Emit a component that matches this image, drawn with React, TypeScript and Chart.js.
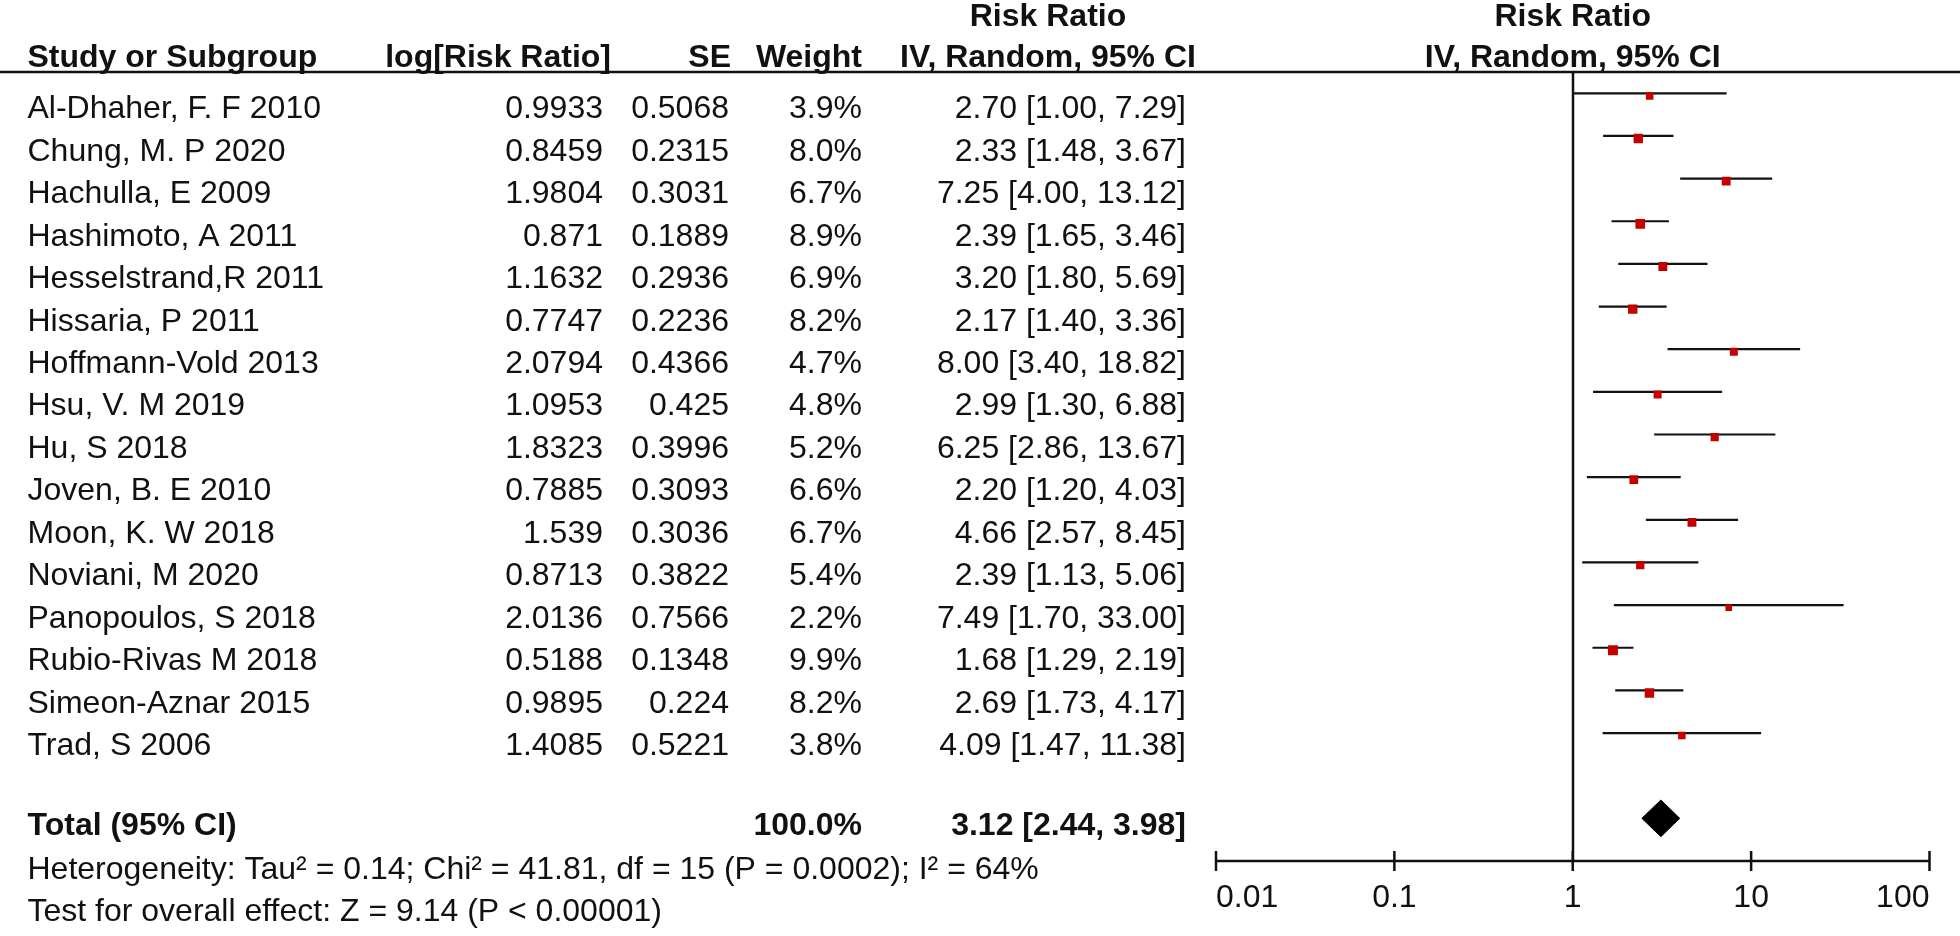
import React, { useEffect, useRef } from "react";
import { Chart, registerables } from "chart.js";

Chart.register(...registerables);

// ---------- data ----------
const studies = [
  "Al-Dhaher, F. F 2010",
  "Chung, M. P 2020",
  "Hachulla, E 2009",
  "Hashimoto, A 2011",
  "Hesselstrand,R 2011",
  "Hissaria, P 2011",
  "Hoffmann-Vold 2013",
  "Hsu, V. M 2019",
  "Hu, S 2018",
  "Joven, B. E 2010",
  "Moon, K. W 2018",
  "Noviani, M 2020",
  "Panopoulos, S 2018",
  "Rubio-Rivas M 2018",
  "Simeon-Aznar 2015",
  "Trad, S 2006",
];
const logRR = [0.9933, 0.8459, 1.9804, 0.871, 1.1632, 0.7747, 2.0794, 1.0953, 1.8323, 0.7885, 1.539, 0.8713, 2.0136, 0.5188, 0.9895, 1.4085];
const seValues = [0.5068, 0.2315, 0.3031, 0.1889, 0.2936, 0.2236, 0.4366, 0.425, 0.3996, 0.3093, 0.3036, 0.3822, 0.7566, 0.1348, 0.224, 0.5221];
const weights = [3.9, 8.0, 6.7, 8.9, 6.9, 8.2, 4.7, 4.8, 5.2, 6.6, 6.7, 5.4, 2.2, 9.9, 8.2, 3.8];
const riskRatio = [2.7, 2.33, 7.25, 2.39, 3.2, 2.17, 8.0, 2.99, 6.25, 2.2, 4.66, 2.39, 7.49, 1.68, 2.69, 4.09];
const ciLower = [1.0, 1.48, 4.0, 1.65, 1.8, 1.4, 3.4, 1.3, 2.86, 1.2, 2.57, 1.13, 1.7, 1.29, 1.73, 1.47];
const ciUpper = [7.29, 3.67, 13.12, 3.46, 5.69, 3.36, 18.82, 6.88, 13.67, 4.03, 8.45, 5.06, 33.0, 2.19, 4.17, 11.38];

const totalLabel = "Total (95% CI)";
const totalWeight = 100.0;
const totalRR = 3.12;
const totalLower = 2.44;
const totalUpper = 3.98;

const xTicks = [0.01, 0.1, 1, 10, 100];
const headerTop = ["Risk Ratio", "Risk Ratio"];
const headerCols = ["Study or Subgroup", "log[Risk Ratio]", "SE", "Weight", "IV, Random, 95% CI", "IV, Random, 95% CI"];
const heterogeneityText = "Heterogeneity: Tau\u00b2 = 0.14; Chi\u00b2 = 41.81, df = 15 (P = 0.0002); I\u00b2 = 64%";
const overallText = "Test for overall effect: Z = 9.14 (P < 0.00001)";

// ---------- layout ----------
const W = 1960;
const H = 936;
const PLOT_LEFT = 1216;
const PLOT_RIGHT = 1929.5;
const PLOT_TOP = 72;
const PLOT_BOTTOM = 861;
const TOTAL_ROW = studies.length + 1;

const FONT = "'Liberation Sans', Arial, Helvetica, sans-serif";
const FS = 32;
const TEXT_COLOR = "#111111";
const RED = "#c40000";

const COL_NAME_L = 27.5;
const COL_LOG_R = 603;
const COL_SE_R = 729;
const COL_W_R = 862;
const COL_CI_R = 1186;
const HDR_LOG_R = 611;
const HDR_SE_R = 731;
const HDR_W_R = 862;
const HDR_CI_C = 1048;

const HDR1_Y = 17;
const HDR2_Y = 58;
const ROW_TEXT_Y0 = 109.5;
const ROW_TEXT_DY = 42.45;
const TOTAL_TEXT_Y = 826;
const HET_Y = 870.5;
const TEST_Y = 912.5;

const fmt2 = (v: number) => v.toFixed(2);

const tablePlugin = {
  id: "forestTable",
  beforeDatasetsDraw(chart: any) {
    const ctx: CanvasRenderingContext2D = chart.ctx;
    const xs = chart.scales.x;
    const area = chart.chartArea;
    ctx.save();
    ctx.strokeStyle = "#111";
    ctx.lineWidth = 2.5;
    // vertical line at no effect
    const x1 = Math.round(xs.getPixelForValue(1));
    ctx.beginPath();
    ctx.moveTo(x1, area.top);
    ctx.lineTo(x1, area.bottom);
    ctx.stroke();
    // axis line
    ctx.beginPath();
    ctx.moveTo(xs.getPixelForValue(xTicks[0]), area.bottom);
    ctx.lineTo(xs.getPixelForValue(xTicks[xTicks.length - 1]), area.bottom);
    ctx.stroke();
    // ticks
    xTicks.forEach((t) => {
      const px = xs.getPixelForValue(t);
      ctx.beginPath();
      ctx.moveTo(px, area.bottom - 10);
      ctx.lineTo(px, area.bottom + 10);
      ctx.stroke();
    });
    // tick labels
    ctx.fillStyle = TEXT_COLOR;
    ctx.font = `${FS}px ${FONT}`;
    ctx.textBaseline = "middle";
    xTicks.forEach((t, i) => {
      const px = xs.getPixelForValue(t);
      ctx.textAlign = i === 0 ? "left" : i === xTicks.length - 1 ? "right" : "center";
      ctx.fillText(String(t), px, area.bottom + 37);
    });
    ctx.restore();
  },
  afterDraw(chart: any) {
    const ctx: CanvasRenderingContext2D = chart.ctx;
    const xs = chart.scales.x;
    ctx.save();
    ctx.fillStyle = TEXT_COLOR;
    ctx.textBaseline = "middle";
    // header
    ctx.font = `bold ${FS}px ${FONT}`;
    ctx.textAlign = "center";
    ctx.fillText(headerTop[0], HDR_CI_C, HDR1_Y);
    ctx.fillText(headerTop[1], xs.getPixelForValue(1), HDR1_Y);
    ctx.textAlign = "left";
    ctx.fillText(headerCols[0], COL_NAME_L, HDR2_Y);
    ctx.textAlign = "right";
    ctx.fillText(headerCols[1], HDR_LOG_R, HDR2_Y);
    ctx.fillText(headerCols[2], HDR_SE_R, HDR2_Y);
    ctx.fillText(headerCols[3], HDR_W_R, HDR2_Y);
    ctx.textAlign = "center";
    ctx.fillText(headerCols[4], HDR_CI_C, HDR2_Y);
    ctx.fillText(headerCols[5], xs.getPixelForValue(1), HDR2_Y);
    // header rule
    ctx.strokeStyle = "#111";
    ctx.lineWidth = 2.5;
    ctx.beginPath();
    ctx.moveTo(0, PLOT_TOP);
    ctx.lineTo(W, PLOT_TOP);
    ctx.stroke();
    // rows
    ctx.font = `${FS}px ${FONT}`;
    studies.forEach((name, i) => {
      const y = ROW_TEXT_Y0 + ROW_TEXT_DY * i;
      ctx.textAlign = "left";
      ctx.fillText(name, COL_NAME_L, y);
      ctx.textAlign = "right";
      ctx.fillText(String(logRR[i]), COL_LOG_R, y);
      ctx.fillText(String(seValues[i]), COL_SE_R, y);
      ctx.fillText(weights[i].toFixed(1) + "%", COL_W_R, y);
      ctx.fillText(`${fmt2(riskRatio[i])} [${fmt2(ciLower[i])}, ${fmt2(ciUpper[i])}]`, COL_CI_R, y);
    });
    // total
    ctx.font = `bold ${FS}px ${FONT}`;
    ctx.textAlign = "left";
    ctx.fillText(totalLabel, COL_NAME_L, TOTAL_TEXT_Y);
    ctx.textAlign = "right";
    ctx.fillText(totalWeight.toFixed(1) + "%", COL_W_R, TOTAL_TEXT_Y);
    ctx.fillText(`${fmt2(totalRR)} [${fmt2(totalLower)}, ${fmt2(totalUpper)}]`, COL_CI_R, TOTAL_TEXT_Y);
    ctx.font = `${FS}px ${FONT}`;
    ctx.textAlign = "left";
    ctx.fillText(heterogeneityText, COL_NAME_L, HET_Y);
    ctx.fillText(overallText, COL_NAME_L, TEST_Y);
    ctx.restore();
  },
};

const squareRadius = (w: number) => (3.44 + 2.08 * Math.sqrt(w)) / Math.SQRT2;

export default function App() {
  const ref = useRef<HTMLCanvasElement | null>(null);
  useEffect(() => {
    if (!ref.current) return;
    const ciDatasets = studies.map((s, i) => ({
      type: "scatter" as const,
      label: s,
      data: [
        { x: ciLower[i], y: i },
        { x: ciUpper[i], y: i },
      ],
      showLine: true,
      borderColor: "#111",
      borderWidth: 2.2,
      pointRadius: 0,
      order: 2,
    }));
    const h = 0.43;
    const chart = new Chart(ref.current, {
      type: "scatter",
      data: {
        datasets: [
          {
            label: "Estimates",
            data: riskRatio.map((v, i) => ({ x: v, y: i + 0.06 })),
            pointStyle: "rect",
            pointRadius: weights.map(squareRadius),
            backgroundColor: RED,
            borderColor: RED,
            borderWidth: 0,
            order: 0,
          } as any,
          {
            label: "Total",
            data: [
              { x: totalLower, y: TOTAL_ROW },
              { x: totalRR, y: TOTAL_ROW - h },
              { x: totalUpper, y: TOTAL_ROW },
              { x: totalRR, y: TOTAL_ROW + h },
              { x: totalLower, y: TOTAL_ROW },
            ],
            showLine: true,
            fill: "shape",
            backgroundColor: "#000",
            borderColor: "#000",
            borderWidth: 1,
            pointRadius: 0,
            tension: 0,
            order: 1,
          } as any,
          ...ciDatasets,
        ],
      },
      options: {
        animation: false,
        responsive: false,
        devicePixelRatio: 1,
        events: [],
        layout: {
          padding: {
            left: PLOT_LEFT,
            right: W - PLOT_RIGHT,
            top: PLOT_TOP,
            bottom: H - PLOT_BOTTOM,
          },
        },
        plugins: { legend: { display: false }, tooltip: { enabled: false } },
        scales: {
          x: { type: "logarithmic", min: xTicks[0], max: xTicks[xTicks.length - 1], display: false },
          y: { type: "linear", min: -0.5, max: TOTAL_ROW + 1, reverse: true, display: false },
        },
      },
      plugins: [tablePlugin],
    });
    return () => chart.destroy();
  }, []);
  return (
    <div style={{ position: "fixed", left: 0, top: 0, width: W, height: H, background: "#fff" }}>
      <canvas ref={ref} width={W} height={H} style={{ display: "block", width: W, height: H }} />
    </div>
  );
}
